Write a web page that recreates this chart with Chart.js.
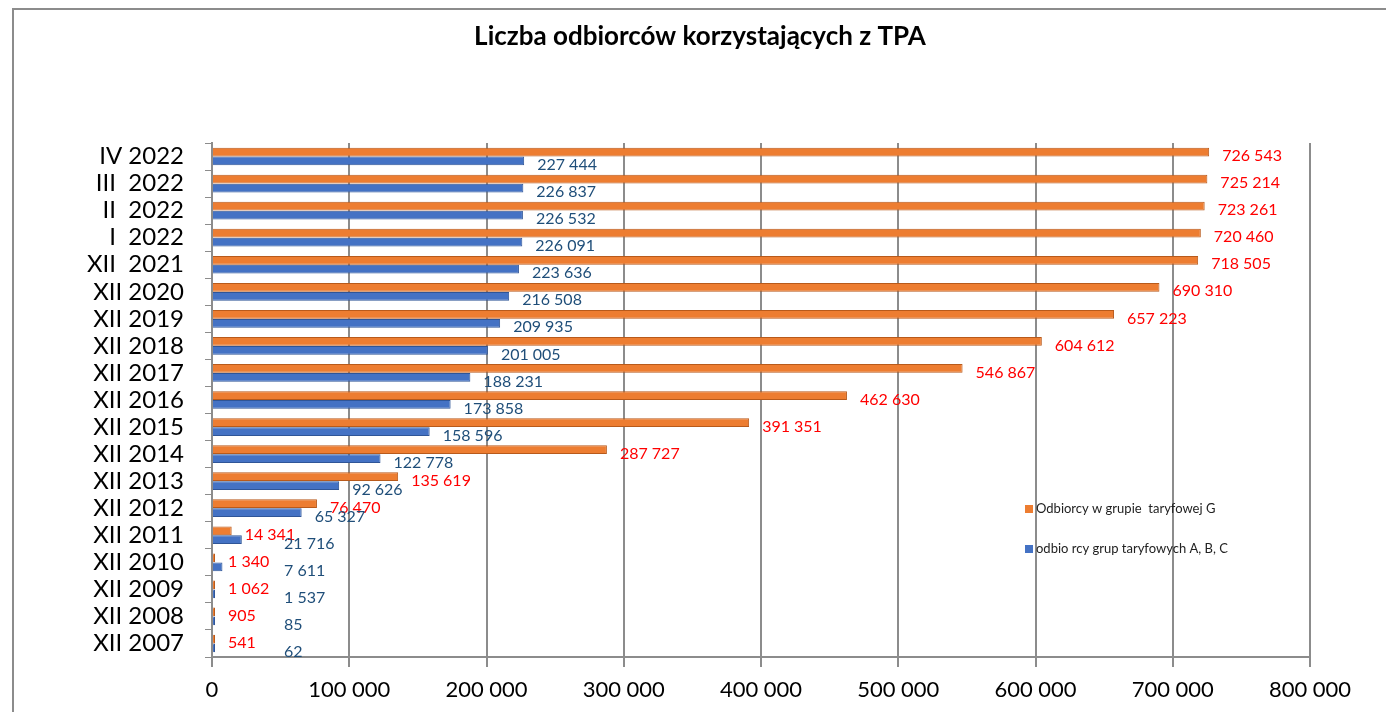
<!DOCTYPE html>
<html>
<head>
<meta charset="utf-8">
<script src="https://cdn.jsdelivr.net/npm/chart.js@4/dist/chart.umd.min.js"></script>
<style>
  body { margin: 0; background: #fff; }
  #wrap { width: 1386px; height: 712px; }
</style>
</head>
<body>
<div id="wrap"><canvas id="tpaChart" width="1386" height="712"></canvas></div>
<script>
// kategorie (od góry do dołu)
const categories = ['IV 2022', 'III  2022', 'II  2022', 'I  2022', 'XII  2021', 'XII 2020', 'XII 2019', 'XII 2018',
  'XII 2017', 'XII 2016', 'XII 2015', 'XII 2014', 'XII 2013', 'XII 2012', 'XII 2011', 'XII 2010',
  'XII 2009', 'XII 2008', 'XII 2007'];

// odbiorcy w grupie taryfowej G
const groupG = [726543, 725214, 723261, 720460, 718505, 690310, 657223, 604612, 546867, 462630,
  391351, 287727, 135619, 76470, 14341, 1340, 1062, 905, 541];

// odbiorcy grup A, B, C
const groupABC = [227444, 226837, 226532, 226091, 223636, 216508, 209935, 201005, 188231, 173858,
  158596, 122778, 92626, 65327, 21716, 7611, 1537, 85, 62];

const xTicks = [0, 100000, 200000, 300000, 400000, 500000, 600000, 700000, 800000];

const seriesNames = ['Odbiorcy w grupie  taryfowej G', 'odbio rcy grup taryfowych A, B, C'];
const chartTitle = 'Liczba odbiorców korzystających z TPA';

// format liczby ze spacją
function fmt(v) {
  return String(v).replace(/\B(?=(\d{3})+(?!\d))/g, ' ');
}

// etykiety wartości przy słupkach
const valueLabels = {
  id: 'valueLabels',
  afterDatasetsDraw(chart) {
    const ctx = chart.ctx;
    ctx.save();
    ctx.font = '16px Lato';
    ctx.textBaseline = 'middle';
    ctx.textAlign = 'left';
    chart.data.datasets.forEach(function(ds, i) {
      const meta = chart.getDatasetMeta(i);
      ctx.fillStyle = i === 0 ? '#FF0000' : '#1F4E79';
      meta.data.forEach(function(bar, j) {
        let x = bar.x + 13;
        if (i === 1) x = Math.max(x, chart.chartArea.left + 72);
        ctx.fillText(fmt(ds.data[j]), x, bar.y + 4);
      });
    });
    ctx.restore();
  }
};

// tytuł, legenda w obszarze wykresu, ramka
const extras = {
  id: 'extras',
  beforeDraw(chart) {
    const ctx = chart.ctx;
    ctx.save();
    ctx.strokeStyle = '#8c8c8c';
    ctx.lineWidth = 2;
    ctx.beginPath();
    ctx.moveTo(13, 712);
    ctx.lineTo(13, 9);
    ctx.lineTo(1386, 9);
    ctx.stroke();
    ctx.fillStyle = '#000';
    ctx.font = 'bold 26px Lato';
    ctx.textAlign = 'center';
    ctx.textBaseline = 'middle';
    ctx.fillText(chartTitle, 700, 37);
    ctx.restore();
  },
  afterDraw(chart) {
    const ctx = chart.ctx;
    ctx.save();
    ctx.font = '13px Lato';
    ctx.textBaseline = 'middle';
    chart.data.datasets.forEach(function(ds, i) {
      const y = 509 + i * 40;
      ctx.fillStyle = ds.backgroundColor;
      ctx.fillRect(1025, y - 4, 8, 8);
      ctx.fillStyle = '#222';
      ctx.fillText(ds.label, 1036, y);
    });
    ctx.restore();
  }
};

let ctx = document.getElementById('tpaChart').getContext('2d');

new Chart(ctx, {
  type: 'bar',
  data: {
    labels: categories,
    datasets: [
      {
        label: seriesNames[0],
        data: groupG,
        backgroundColor: '#ED7D31',
        borderColor: '#B85A1B',
        borderWidth: 1,
        borderSkipped: 'start',
        minBarLength: 3,
        barPercentage: 0.98,
        categoryPercentage: 0.66
      },
      {
        label: seriesNames[1],
        data: groupABC,
        backgroundColor: '#4472C4',
        borderColor: '#2F5597',
        borderWidth: 1,
        borderSkipped: 'start',
        minBarLength: 3,
        barPercentage: 0.98,
        categoryPercentage: 0.66
      }
    ]
  },
  options: {
    indexAxis: 'y',
    responsive: false,
    animation: false,
    layout: { padding: { left: 0, right: 76, top: 143, bottom: 0 } },
    plugins: {
      legend: { display: false },
      tooltip: { enabled: false },
      title: { display: false }
    },
    scales: {
      x: {
        min: 0,
        max: 800000,
        afterBuildTicks: function(scale) {
          scale.ticks = xTicks.map(function(v) { return { value: v }; });
        },
        afterFit: function(scale) { scale.height = 55; },
        grid: {
          color: '#8c8c8c',
          lineWidth: 2,
          tickLength: 10,
          tickColor: '#8c8c8c'
        },
        border: { color: '#8c8c8c', width: 2 },
        ticks: {
          color: '#000',
          padding: 10,
          font: { family: 'Lato', size: 22 },
          maxRotation: 0,
          callback: function(v) { return fmt(v); }
        }
      },
      y: {
        afterFit: function(scale) { scale.width = 212; },
        grid: {
          drawOnChartArea: false,
          tickLength: 7,
          tickColor: '#8c8c8c',
          lineWidth: 1
        },
        border: { color: '#8c8c8c', width: 2 },
        ticks: {
          color: '#000',
          padding: 21,
          autoSkip: false,
          font: { family: 'Lato', size: 24 }
        }
      }
    }
  },
  plugins: [valueLabels, extras]
});
</script>
</body>
</html>
